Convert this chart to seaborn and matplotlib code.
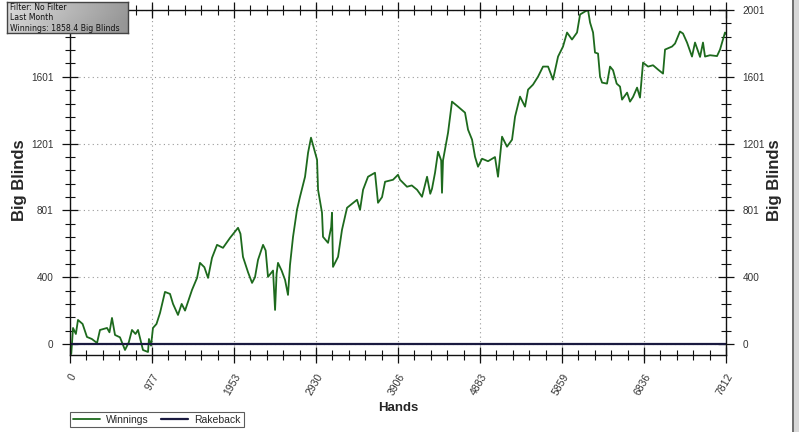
import matplotlib
matplotlib.use("Agg")
import matplotlib.pyplot as plt
import numpy as np
import pandas as pd
import seaborn as sns

# cumulative winnings (hands, big blinds)
hands = [0, 15, 36, 70, 95, 150, 202, 260, 322, 357, 441, 470, 500, 536, 595, 655,
         700, 738, 780, 810, 869, 929, 940, 965, 988, 1030, 1072, 1131, 1191, 1227,
         1286, 1330, 1370, 1453, 1513, 1548, 1600, 1644, 1691, 1751, 1822, 1906, 2001,
         2030, 2060, 2120, 2168, 2203, 2239, 2299, 2330, 2358, 2418, 2442, 2460, 2477,
         2520, 2561, 2596, 2620, 2656, 2703, 2739, 2799, 2835, 2870, 2900, 2942, 2954,
         3001, 3013, 3073, 3110, 3120, 3132, 3192, 3239, 3299, 3418, 3454, 3490, 3549,
         3632, 3668, 3716, 3752, 3847, 3906, 3930, 4013, 4070, 4133, 4192, 4252, 4290,
         4311, 4347, 4383, 4420, 4430, 4442, 4502, 4549, 4621, 4704, 4740, 4788, 4823,
         4859, 4907, 4978, 5061, 5097, 5145, 5204, 5264, 5300, 5359, 5419, 5455, 5514,
         5574, 5633, 5693, 5752, 5812, 5871, 5919, 5978, 6038, 6074, 6133, 6169, 6193,
         6229, 6252, 6288, 6312, 6336, 6395, 6431, 6467, 6510, 6550, 6574, 6634, 6669,
         6705, 6753, 6788, 6824, 6884, 6943, 7003, 7062, 7086, 7169, 7205, 7264, 7300,
         7348, 7407, 7443, 7503, 7538, 7562, 7622, 7705, 7741, 7800, 7812]
winnings = [0, -60, 96, 60, 144, 120, 42, 30, 6, 84, 96, 70, 156, 54, 40, -36,
            10, 84, 60, 84, -36, -48, 30, -10, 96, 120, 186, 312, 300, 240,
            174, 240, 200, 324, 396, 486, 460, 396, 516, 594, 576, 636, 696,
            660, 522, 430, 366, 400, 504, 594, 560, 402, 440, 204, 420, 486,
            440, 384, 294, 474, 642, 804, 882, 1002, 1146, 1236, 1180, 1104, 924,
            786, 642, 606, 700, 786, 462, 522, 684, 816, 864, 804, 924, 1002,
            1026, 846, 880, 972, 984, 1014, 984, 942, 950, 924, 882, 1002, 900,
            930, 1026, 1152, 1100, 906, 1100, 1266, 1452, 1422, 1386, 1284, 1224, 1122,
            1062, 1110, 1095, 1120, 1002, 1242, 1182, 1224, 1362, 1482, 1422, 1524, 1554,
            1602, 1662, 1662, 1584, 1722, 1782, 1866, 1824, 1866, 1974, 1992, 2001, 1926,
            1866, 1746, 1740, 1602, 1566, 1560, 1662, 1640, 1560, 1542, 1464, 1506, 1452,
            1480, 1536, 1476, 1686, 1662, 1670, 1644, 1620, 1764, 1782, 1800, 1872, 1860,
            1806, 1722, 1806, 1720, 1806, 1722, 1730, 1725, 1764, 1866, 1858.4]
rakeback = [0] * len(hands)

x_ticks = [0, 977, 1953, 2930, 3906, 4883, 5859, 6836, 7812]
y_ticks = [0, 400.2, 800.4, 1200.6, 1600.8, 2001]
y_tick_labels = ["0", "400", "801", "1201", "1601", "2001"]

df = pd.DataFrame({"Hands": hands, "Winnings": winnings, "Rakeback": rakeback})

sns.set_style("white")
plt.rcParams["font.family"] = ["Liberation Sans Narrow", "Liberation Sans", "DejaVu Sans"]

fig = plt.figure(figsize=(7.99, 4.32), dpi=100)
ax = fig.add_axes([70 / 799, 1 - 355 / 432, 656 / 799, 345 / 432])

sns.lineplot(data=df, x="Hands", y="Winnings", ax=ax, color="#1d6a1d",
             linewidth=1.3, label="Winnings", legend=False)
sns.lineplot(data=df, x="Hands", y="Rakeback", ax=ax, color="#1a1a40",
             linewidth=1.6, label="Rakeback", legend=False)

ax.set_xlim(0, 7812)
ax.set_ylim(-66, 2001)
ax.set_xticks(x_ticks)
ax.set_xticklabels([str(t) for t in x_ticks], rotation=60, ha="right",
                   rotation_mode="anchor", fontsize=7.5, color="#333333")
ax.set_xticks(np.arange(0, 7812, 7812 / 40), minor=True)
ax.set_yticks(y_ticks)
ax.set_yticklabels(y_tick_labels, fontsize=7.2, color="#333333")
ax.set_yticks(np.arange(0, 2001, 2001 / 25), minor=True)

ax.tick_params(which="both", direction="inout", top=True, right=True,
               left=True, bottom=True, labelright=True, labelleft=True,
               color="#111111")
ax.tick_params(which="major", length=12, width=0.9, pad=6)
ax.tick_params(which="minor", length=7, width=0.8)
ax.tick_params(axis="y", which="major", pad=6)
# the left 2001 label sits behind the info box in the original
ax.yaxis.get_major_ticks()[-1].label1.set_visible(False)

ax.grid(True, which="major", linestyle=(0, (1, 3)), color="#999999", linewidth=0.8)
for side in ["left", "right", "top", "bottom"]:
    ax.spines[side].set_color("#111111")
    ax.spines[side].set_linewidth(1.0)

ax.set_xlabel("Hands", fontsize=9.5, fontweight="bold", labelpad=4,
              family=["Liberation Sans", "DejaVu Sans"])
ax.set_ylabel("")
for xpos in [20, 775]:
    fig.text(xpos / 799, 1 - 180 / 432, "Big Blinds", fontsize=12, fontweight="bold",
             rotation=90, ha="center", va="center",
             family=["Liberation Sans", "DejaVu Sans"])

# legend under the plot
leg = fig.legend(handles=ax.get_lines()[:2], labels=["Winnings", "Rakeback"],
                 loc="upper left", bbox_to_anchor=(70 / 799, 1 - 412 / 432),
                 ncol=2, frameon=True, fancybox=False,
                 borderpad=0.25, handlelength=2.6, columnspacing=1.2,
                 handletextpad=0.6, borderaxespad=0,
                 prop={"family": ["Liberation Sans", "DejaVu Sans"], "size": 7.5})
leg.get_frame().set_edgecolor("#333333")
leg.get_frame().set_linewidth(0.8)

# info box top-left with gray gradient
box = fig.add_axes([7 / 799, 1 - 33 / 432, 121 / 799, 31 / 432])
grad = np.linspace(0.85, 0.6, 256).reshape(1, -1)
box.imshow(np.vstack([grad, grad * 0.97]), cmap="gray", vmin=0, vmax=1,
           aspect="auto", extent=[0, 1, 0, 1])
box.set_xticks([])
box.set_yticks([])
for s in box.spines.values():
    s.set_color("#444444")
    s.set_linewidth(1.0)
info = ["Filter: No Filter", "Last Month", "Winnings: 1858.4 Big Blinds"]
for i, line in enumerate(info):
    box.text(0.025, 0.82 - i * 0.33, line, transform=box.transAxes, fontsize=5.6,
             family="DejaVu Sans", va="center", ha="left", color="#111111")

# window edge on the right
fig.add_artist(plt.Line2D([793 / 799, 793 / 799], [0, 1], color="#555555", lw=1.2))
fig.add_artist(plt.Rectangle((794 / 799, 0), 5 / 799, 1, color="#d8d8d8", lw=0))

fig.savefig("out.png", dpi=100)
